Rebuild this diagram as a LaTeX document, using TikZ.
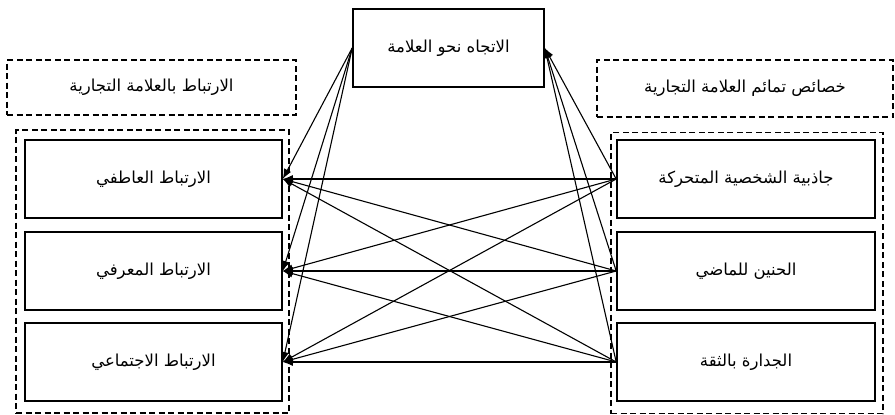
\documentclass[tikz,border=0pt]{standalone}
\usepackage{fontspec}
\newfontfamily\arabicfont[Script=Arabic]{DejaVu Sans}
\TeXXeTstate=1
\usetikzlibrary{arrows.meta}
\newcommand{\ar}[1]{\beginR #1\endR}
\begin{document}
\begin{tikzpicture}[x=1pt,y=-1pt,
  txt/.style={font=\arabicfont\fontsize{16.5}{19}\selectfont, inner sep=0pt},
  box/.style={txt, draw, line width=1.6pt, minimum width=257pt, minimum height=78pt},
  dbox/.style={draw, line width=1.3pt, dash pattern=on 6pt off 3.5pt},
  arr/.style={-{Latex[length=10pt,width=8pt]}, line width=1.1pt},
  ln/.style={line width=1.1pt}]
\useasboundingbox (0,0) rectangle (895,415);
% dashed frames
\node[dbox, txt, minimum width=289pt, minimum height=55pt] (lt) at (151.5,87.5) {\ar{الارتباط بالعلامة التجارية}};
\node[dbox, txt, minimum width=296pt, minimum height=57pt] (rt) at (745,88.5) {\ar{خصائص تمائم العلامة التجارية}};
\node[dbox, minimum width=273pt, minimum height=283pt] (lg) at (152.5,271.5) {};
\node[dbox, minimum width=272pt, minimum height=281pt] (rg) at (747,273) {};
% top box
\node[txt, draw, line width=1.6pt, minimum width=191pt, minimum height=78pt] (top) at (448.5,48) {\ar{الاتجاه نحو العلامة}};
% left boxes
\node[box] (l1) at (153.5,179) {\ar{الارتباط العاطفي}};
\node[box] (l2) at (153.5,271) {\ar{الارتباط المعرفي}};
\node[box] (l3) at (153.5,362) {\ar{الارتباط الاجتماعي}};
% right boxes
\node[box, minimum width=258pt] (r1) at (746,179) {\ar{جاذبية الشخصية المتحركة}};
\node[box, minimum width=258pt] (r2) at (746,271) {\ar{الحنين للماضي}};
\node[box, minimum width=258pt] (r3) at (746,362) {\ar{الجدارة بالثقة}};
% connectors right -> left
\foreach \r in {r1,r2,r3}{
  \foreach \l in {l1,l2,l3}{
    \draw[arr] (\r.west) -- (\l.east);
  }
}
% right -> top
\foreach \r in {r1,r2,r3}{
  \draw[arr] (\r.west) -- (top.east);
}
% top -> left
\foreach \l in {l1,l2,l3}{
  \draw[arr] (top.west) -- (\l.east);
}
\end{tikzpicture}
\end{document}
